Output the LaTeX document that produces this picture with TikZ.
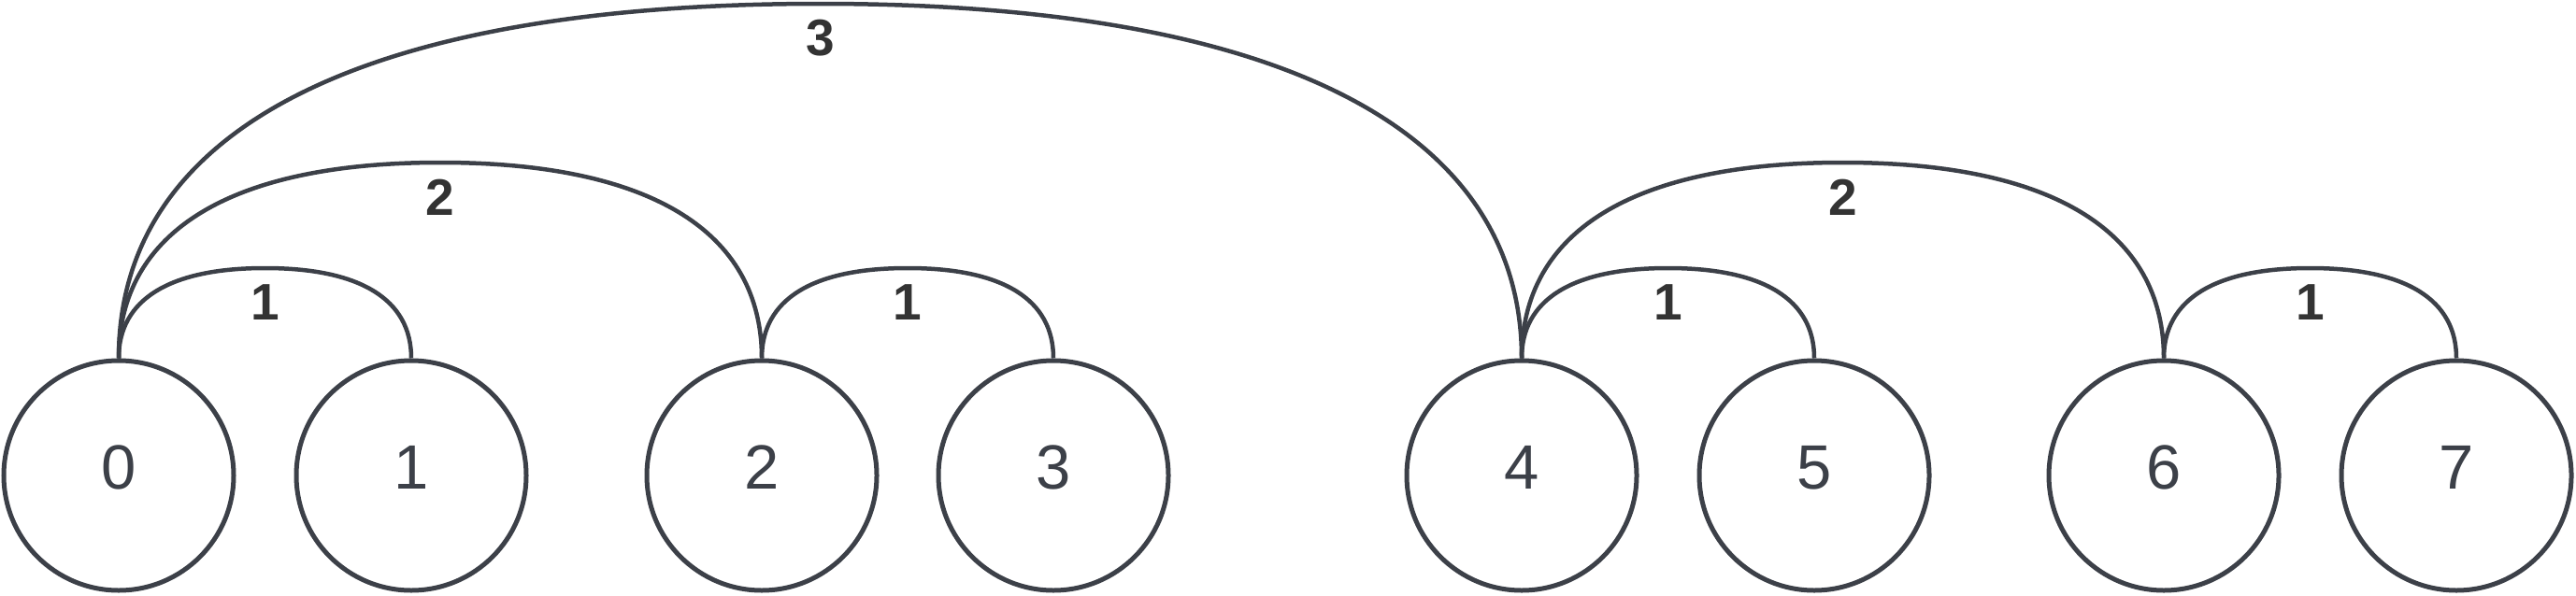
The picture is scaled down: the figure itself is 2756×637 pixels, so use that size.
\documentclass[tikz,border=0pt]{standalone}
\usepackage{fontspec}
\setmainfont{Liberation Sans}
\definecolor{ln}{HTML}{3C4048}
\definecolor{lb}{HTML}{333333}
\begin{document}
\begin{tikzpicture}[x=1pt,y=-1pt,
  vert/.style={circle,draw=ln,line width=5pt,minimum size=246pt,inner sep=0pt,text=ln,
    font=\fontsize{67}{80}\selectfont,text height=48pt,text depth=20pt},
  arcline/.style={draw=ln,line width=4.5pt},
  wt/.style={text=lb,font=\fontsize{55}{66}\selectfont\bfseries,inner sep=0pt,yshift=-37pt}]
\useasboundingbox (0,0) rectangle (2756,637);
\node[vert] (n0) at (127,509) {0};
\node[vert] (n1) at (440,509) {1};
\node[vert] (n2) at (815,509) {2};
\node[vert] (n3) at (1127,509) {3};
\node[vert] (n4) at (1628,509) {4};
\node[vert] (n5) at (1941,509) {5};
\node[vert] (n6) at (2315,509) {6};
\node[vert] (n7) at (2628,509) {7};
% arc peaks
\coordinate (p01) at (283.5,287);
\coordinate (p23) at (971,287);
\coordinate (p45) at (1784.5,287);
\coordinate (p67) at (2471.5,287);
\coordinate (p02) at (471,174);
\coordinate (p46) at (1971.5,174);
\coordinate (p04) at (877.5,4);
% level 1
\draw[arcline] (n0.north) .. controls +(0,-63) and +(-102,0) .. (p01) .. controls +(102,0) and +(0,-63) .. (n1.north);
\draw[arcline] (n2.north) .. controls +(0,-63) and +(-102,0) .. (p23) .. controls +(102,0) and +(0,-63) .. (n3.north);
\draw[arcline] (n4.north) .. controls +(0,-63) and +(-102,0) .. (p45) .. controls +(102,0) and +(0,-63) .. (n5.north);
\draw[arcline] (n6.north) .. controls +(0,-63) and +(-102,0) .. (p67) .. controls +(102,0) and +(0,-63) .. (n7.north);
% level 2
\draw[arcline] (n0.north) .. controls +(0,-136.5) and +(-223.5,0) .. (p02) .. controls +(223.5,0) and +(0,-136.5) .. (n2.north);
\draw[arcline] (n4.north) .. controls +(0,-136.5) and +(-223.5,0) .. (p46) .. controls +(223.5,0) and +(0,-136.5) .. (n6.north);
% level 3
\draw[arcline] (n0.north) .. controls +(0,-247) and +(-488,0) .. (p04) .. controls +(488,0) and +(0,-247) .. (n4.north);
% weights
\node[wt] (w01) at (p01) {1};
\node[wt] (w23) at (p23) {1};
\node[wt] (w45) at (p45) {1};
\node[wt] (w67) at (p67) {1};
\node[wt] (w02) at (p02) {2};
\node[wt] (w46) at (p46) {2};
\node[wt] (w04) at (p04) {3};
\end{tikzpicture}
\end{document}
